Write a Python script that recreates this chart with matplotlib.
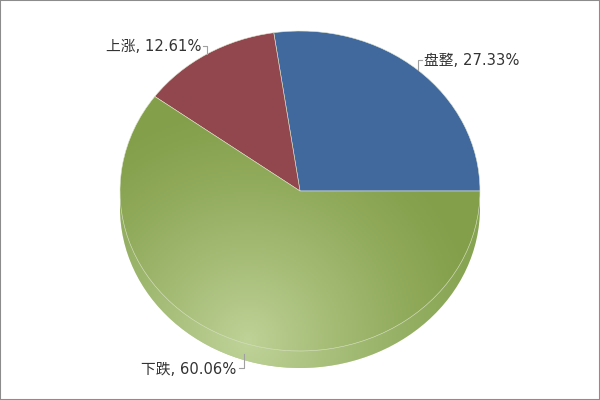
import numpy as np
import matplotlib
matplotlib.use("Agg")
import matplotlib.pyplot as plt
from matplotlib.patches import Ellipse, Rectangle

plt.rcParams['font.family'] = ['DejaVu Sans', 'Noto Sans CJK SC']

labels = ['盘整', '上涨', '下跌']
values = [27.33, 12.61, 60.06]
colors = ['#41699e', '#91474d', '#839f4a']

# pie geometry in pixels (image 600x400, y from top)
cx, cy = 300, 191
rx, ry = 180, 160
depth = 17

fig = plt.figure(figsize=(6, 4), dpi=100)
ax = fig.add_axes([0, 0, 1, 1])

def to_data(px, py):
    return (px - cx) / rx, (cy - py) / ry

x0, y0 = to_data(0, 400)
x1, y1 = to_data(600, 0)

# light radial highlight, used on the green part
gx = np.linspace(x0, x1, 300)
gy = np.linspace(y0, y1, 200)
GX, GY = np.meshgrid(gx, gy)
PX = GX * rx + cx
PY = cy - GY * ry
d = np.hypot(PX - 248, PY - 340)
alpha = np.clip(1 - d / 240, 0, 1) ** 1.3 * 0.68
img = np.zeros(GX.shape + (4,))
img[..., 0] = 0.86
img[..., 1] = 0.92
img[..., 2] = 0.74
img[..., 3] = alpha

# side of the 3d pie
side = Ellipse((0, -depth / ry), 2, 2, facecolor='#87a452', edgecolor='none', zorder=1)
ax.add_patch(side)
im = ax.imshow(img, extent=(x0, x1, y0, y1), origin='lower', aspect='auto', zorder=2)
im.set_clip_path(side)

wedges, _ = ax.pie(values, colors=colors, startangle=0, counterclock=True,
                   radius=1, center=(0, 0), frame=True,
                   wedgeprops=dict(edgecolor='#dfe6d0', linewidth=0.4))
for w in wedges:
    w.set_zorder(3)

im2 = ax.imshow(img, extent=(x0, x1, y0, y1), origin='lower', aspect='auto', zorder=4)
im2.set_clip_path(wedges[2])

ax.set_aspect('auto')
ax.set_xlim(x0, x1)
ax.set_ylim(y0, y1)
ax.axis('off')

# labels with small elbow connectors
start = 0
offsets = [(-10, 4, 2), (-8, -4, -2), (14, -5, -3)]
for lab, v, (dy, dx, gap) in zip(labels, values, offsets):
    mid = np.deg2rad(start + v * 3.6 / 2)
    start += v * 3.6
    ax_px = cx + rx * np.cos(mid)
    ay_px = cy - ry * np.sin(mid)
    if np.sin(mid) < 0:
        ay_px += depth - 6
    ey = ay_px + dy
    ex = ax_px + dx
    xs, ys = zip(*[to_data(ax_px, ay_px), to_data(ax_px, ey), to_data(ex, ey)])
    ax.plot(xs, ys, color='#a0a0a0', lw=0.8, zorder=5)
    tx, ty = to_data(ex + gap, ey + 1)
    ax.text(tx, ty, f'{lab}, {v:.2f}%', fontsize=10.6, color='#333333',
            ha='left' if dx > 0 else 'right', va='center', zorder=6)

fig.patches.append(Rectangle((0, 0), 1, 1, transform=fig.transFigure,
                             fill=False, edgecolor='#8c8c8c', lw=1.5))
fig.savefig('out.png', dpi=100)
